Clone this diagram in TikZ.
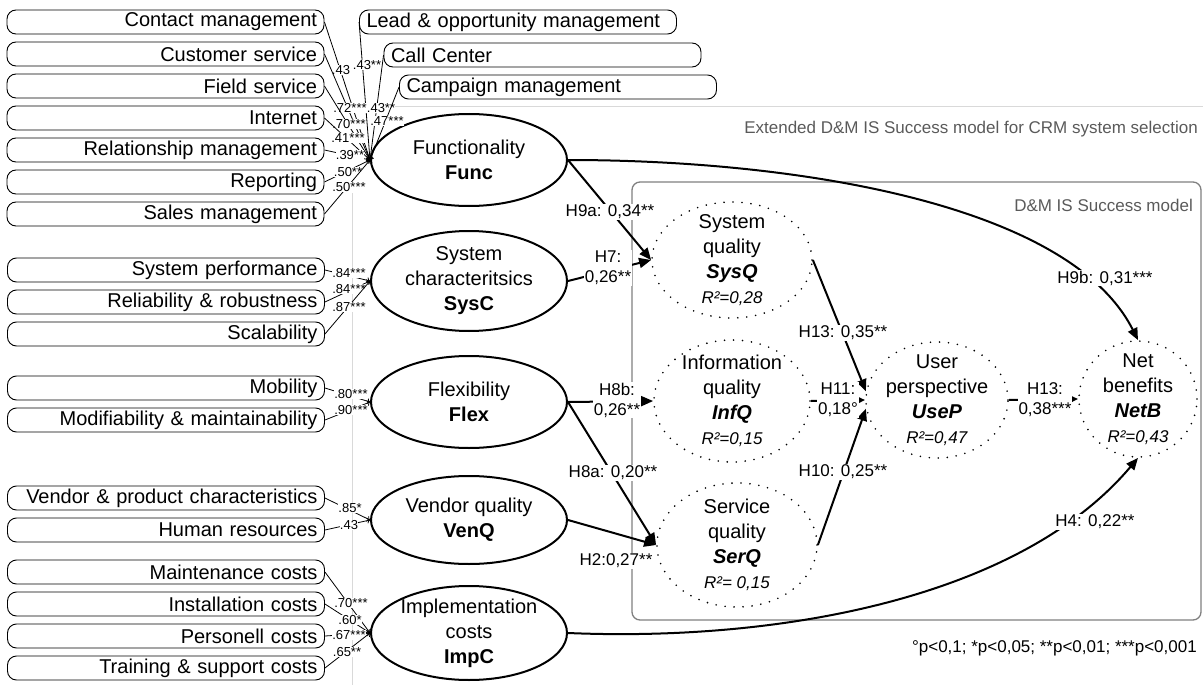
\documentclass[tikz,border=0pt]{standalone}
\usepackage{fontspec}
\setmainfont{Liberation Sans}
\usetikzlibrary{arrows.meta,shapes.geometric}
\definecolor{framec}{HTML}{D9D9D9}
\definecolor{innerc}{HTML}{808080}
\definecolor{greyt}{HTML}{5A5A5A}
\begin{document}
\begin{tikzpicture}[x=1pt,y=-1pt,
  ind/.style={draw, line width=0.9pt, rounded corners=9pt, minimum height=24pt, text width=303pt, inner xsep=7pt, inner ysep=0pt, font=\fontsize{20}{24}\selectfont},
  indr/.style={ind, align=right},
  indl/.style={ind, align=left},
  lat/.style={draw, ellipse, line width=2pt, minimum width=196pt, inner sep=0pt},
  lattxt/.style={align=center, inner sep=0pt, font=\fontsize{20}{25}\selectfont},
  dm/.style={draw, ellipse, line width=1.8pt, dash pattern=on 0pt off 9pt, line cap=round, inner sep=0pt},
  ld/.style={line width=0.8pt, -{To[length=3pt,width=6pt]}},
  ll/.style={font=\fontsize{13}{13}\selectfont, inner sep=0.3pt, fill=white},
  hyp/.style={line width=2pt, -{Triangle[length=12pt,width=10pt]}},
  hyps/.style={line width=2pt, -{Triangle[length=8pt,width=7pt]}},
  hl/.style={font=\fontsize{17}{20}\selectfont, fill=white, inner sep=1pt, align=center},
  gt/.style={font=\fontsize{17}{20}\selectfont, text=greyt, inner sep=0pt, anchor=east},
]
\useasboundingbox (0,0) rectangle (1203,685);

% frames
\draw[framec, line width=1pt] (352,685) -- (352,193);
\draw[framec, line width=1pt] (393,107) -- (1203,107);
\node[gt] (ttl) at (1198,129) {Extended D\&M IS Success model for CRM system selection};
\node[draw=innerc, line width=1.3pt, rounded corners=8pt, minimum width=569pt, minimum height=438pt, inner sep=0pt] (DMbox) at (916.5,401) {};
\node[gt] (dmt) at (1193,205) {D\&M IS Success model};

% latent constructs
\node[lat, minimum height=92pt] (Func) at (469,160) {};
\node[lattxt] (Funct) at (Func) {Functionality\\\textbf{Func}};
\node[lat, minimum height=100pt] (SysC) at (469,281) {};
\node[lattxt] (SysCt) at (SysC) {System\\characteritsics\\\textbf{SysC}};
\node[lat, minimum height=92pt] (Flex) at (469,402) {};
\node[lattxt] (Flext) at (Flex) {Flexibility\\\textbf{Flex}};
\node[lat, minimum height=88pt] (VenQ) at (469,520) {};
\node[lattxt] (VenQt) at (VenQ) {Vendor quality\\\textbf{VenQ}};
\node[lat, minimum height=94pt] (ImpC) at (469,633) {};
\node[lattxt] (ImpCt) at (ImpC) {Implementation\\costs\\\textbf{ImpC}};

% D&M constructs
\node[dm, minimum width=160pt, minimum height=116pt] (SysQ) at (732,260) {};
\node[lattxt] (SysQt) at (SysQ) {System\\quality\\\textbf{\textit{SysQ}}\\{\fontsize{17}{20}\selectfont\textit{R²=0,28}}};
\node[dm, minimum width=156pt, minimum height=122pt] (InfQ) at (732,401) {};
\node[lattxt] (InfQt) at (InfQ) {Information\\quality\\\textbf{\textit{InfQ}}\\{\fontsize{17}{20}\selectfont\textit{R²=0,15}}};
\node[dm, minimum width=160pt, minimum height=124pt] (SerQ) at (737,545) {};
\node[lattxt] (SerQt) at (SerQ) {Service\\quality\\\textbf{\textit{SerQ}}\\{\fontsize{17}{20}\selectfont\textit{R²= 0,15}}};
\node[dm, minimum width=142pt, minimum height=116pt] (UseP) at (937,400) {};
\node[lattxt] (UsePt) at (UseP) {User\\perspective\\\textbf{\textit{UseP}}\\{\fontsize{17}{20}\selectfont\textit{R²=0,47}}};
\node[dm, minimum width=118pt, minimum height=116pt] (NetB) at (1138,399) {};
\node[lattxt] (NetBt) at (NetB) {Net\\benefits\\\textbf{\textit{NetB}}\\{\fontsize{17}{20}\selectfont\textit{R²=0,43}}};

% indicators
\node[indr] (i1) at (165.5,22) {Contact management};
\node[indr] (i2) at (165.5,54) {Customer service};
\node[indr] (i3) at (165.5,86) {Field service};
\node[indr] (i4) at (165.5,118) {Internet};
\node[indr] (i5) at (165.5,150) {Relationship management};
\node[indr] (i6) at (165.5,182) {Reporting};
\node[indr] (i7) at (165.5,214) {Sales management};
\node[indl] (t1) at (518,22) {Lead \& opportunity management};
\node[indl] (t2) at (542.5,55) {Call Center};
\node[indl] (t3) at (558,87) {Campaign management};
\node[indr] (s1) at (166,270) {System performance};
\node[indr] (s2) at (166,302) {Reliability \& robustness};
\node[indr] (s3) at (166,334) {Scalability};
\node[indr] (f1) at (166,388) {Mobility};
\node[indr] (f2) at (166,420) {Modifiability \& maintainability};
\node[indr] (v1) at (166,498) {Vendor \& product characteristics};
\node[indr] (v2) at (166,530) {Human resources};
\node[indr] (c1) at (166,572) {Maintenance costs};
\node[indr] (c2) at (166,604) {Installation costs};
\node[indr] (c3) at (166,636) {Personell costs};
\node[indr] (c4) at (166,668) {Training \& support costs};

% loadings
\draw[ld] (i1.east) -- (Func.west); \node[ll] (l1) at (341,70) {.43};
\draw[ld] (t1.west) -- (Func.west); \node[ll] (l8) at (367,65) {.43**};
\draw[ld] (i2.east) -- (Func.west); \node[ll] (l2) at (350,108) {.72***};
\draw[ld] (t2.west) -- (Func.west); \node[ll] (l9) at (381,108) {.43**};
\draw[ld] (i3.east) -- (Func.west); \node[ll] (l3) at (349,124) {.70***};
\draw[ld] (t3.west) -- (Func.west); \node[ll] (l10) at (387,121) {.47***};
\draw[ld] (i4.east) -- (Func.west); \node[ll] (l4) at (348,138) {.41***};
\draw[ld] (i5.east) -- (Func.west); \node[ll] (l5) at (350,155) {.39**};
\draw[ld] (i6.east) -- (Func.west); \node[ll] (l6) at (348,172) {.50**};
\draw[ld] (i7.east) -- (Func.west); \node[ll] (l7) at (349,187) {.50***};

\draw[ld] (s1.east) -- (SysC.west); \node[ll] (ls1) at (349,273) {.84***};
\draw[ld] (s2.east) -- (SysC.west); \node[ll] (ls2) at (349,289) {.84***};
\draw[ld] (s3.east) -- (SysC.west); \node[ll] (ls3) at (349,307) {.87***};

\draw[ld] (f1.east) -- (Flex.west); \node[ll] (lf1) at (351,394) {.80***};
\draw[ld] (f2.east) -- (Flex.west); \node[ll] (lf2) at (351,410) {.90***};

\draw[ld] (v1.east) -- (VenQ.west); \node[ll] (lv1) at (350,508) {.85*};
\draw[ld] (v2.east) -- (VenQ.west); \node[ll] (lv2) at (349,525) {.43};

\draw[ld] (c1.east) -- (ImpC.west); \node[ll] (lc1) at (351,603) {.70***};
\draw[ld] (c2.east) -- (ImpC.west); \node[ll] (lc2) at (350,620) {.60*};
\draw[ld] (c3.east) -- (ImpC.west); \node[ll] (lc3) at (349,635) {.67***};
\draw[ld] (c4.east) -- (ImpC.west); \node[ll] (lc4) at (347,652) {.65**};

% structural paths
\draw[hyp] (Func.east) -- (SysQ.west);
\draw[hyp] (SysC.east) -- (SysQ.west);
\draw[hyp] (Flex.east) -- (InfQ.west);
\draw[hyp] (Flex.east) -- (SerQ.west);
\draw[hyp] (VenQ.east) -- (SerQ.west);
\draw[hyp] (SysQ.east) -- (UseP.173);
\draw[hyps] (InfQ.east) -- (UseP.west);
\draw[hyp] (SerQ.east) -- (UseP.187);
\draw[hyps] (UseP.east) -- (NetB.west);
\draw[hyp] (Func.east) .. controls (800,160) and (1070,205) .. (NetB.north);
\draw[hyp] (ImpC.east) .. controls (780,642) and (1020,598) .. (NetB.south);

% path labels
\node[hl] (h9a) at (610,212) {H9a: 0,34**};
\node[hl] (h7) at (608,268) {H7:\\0,26**};
\node[hl] (h8b) at (617,400) {H8b:\\0,26**};
\node[hl] (h8a) at (613,473) {H8a: 0,20**};
\node[hl] (h2) at (616,561) {H2:0,27**};
\node[hl] (h13a) at (843,333) {H13: 0,35**};
\node[hl] (h11) at (838,400) {H11:\\0,18°};
\node[hl] (h10) at (843,472) {H10: 0,25**};
\node[hl] (h13b) at (1045,400) {H13:\\0,38***};
\node[hl] (h9b) at (1105,278) {H9b: 0,31***};
\node[hl] (h4) at (1095,522) {H4: 0,22**};

\node[anchor=east, inner sep=0pt, font=\fontsize{17}{20}\selectfont] (note) at (1197,648) {°p<0,1; *p<0,05; **p<0,01; ***p<0,001};
\end{tikzpicture}
\end{document}
